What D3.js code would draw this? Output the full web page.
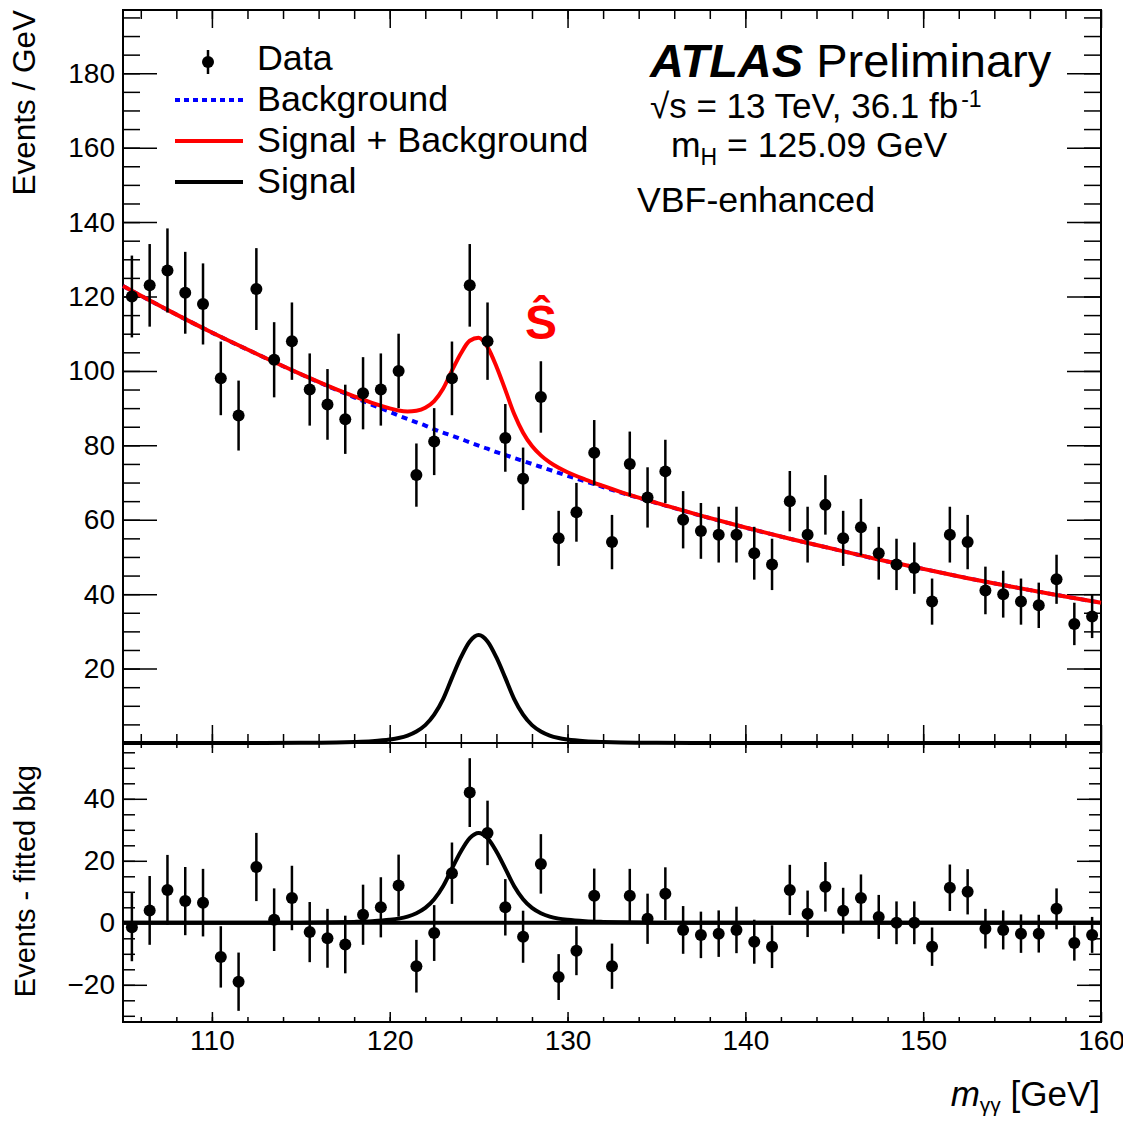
<!DOCTYPE html>
<html>
<head>
<meta charset="utf-8">
<script src="https://cdn.jsdelivr.net/npm/d3@7"></script>
<style>
  body { margin: 0; background: #fff; }
  svg { font-family: "Liberation Sans", Arial, sans-serif; }
  .tick text { font-size: 28px; fill: #000; }
  .tick line { stroke: #000; stroke-width: 1.5; }
</style>
</head>
<body>
<svg id="chart" width="1123" height="1121"></svg>
<script>
// bin centres (1 GeV bins)
const binCenters = [105.5,106.5,107.5,108.5,109.5,110.5,111.5,112.5,113.5,114.5,115.5,116.5,117.5,118.5,119.5,
  120.5,121.5,122.5,123.5,124.5,125.5,126.5,127.5,128.5,129.5,130.5,131.5,132.5,133.5,134.5,135.5,136.5,137.5,
  138.5,139.5,140.5,141.5,142.5,143.5,144.5,145.5,146.5,147.5,148.5,149.5,150.5,151.5,152.5,153.5,154.5,155.5,
  156.5,157.5,158.5,159.5];
const dataEvents = [120,123,127,121,118,98,88,122,103,108,95,91,87,94,95,100,72,81,98,123,108,82,71,93,55,62,78,
  54,75,66,73,60,57,56,56,51,48,65,56,64,55,58,51,48,47,38,56,54,41,40,38,37,44,32,34];
const dataErrors = [11.0,11.1,11.3,11.0,10.9,9.9,9.4,11.0,10.1,10.4,9.7,9.5,9.3,9.7,9.7,10.0,8.5,9.0,9.9,11.1,
  10.4,9.1,8.4,9.6,7.4,7.9,8.8,7.3,8.7,8.1,8.5,7.7,7.5,7.5,7.5,7.1,6.9,8.1,7.5,8.0,7.4,7.6,7.1,6.9,6.9,6.2,7.5,
  7.3,6.4,6.3,6.2,6.1,6.6,5.7,5.8];
const residuals = [-1.4,4,10.6,7,6.5,-11,-19,18,1,8,-3,-5,-7,2.6,5,12,-14,-3.3,16,42,29,5,-4.5,19,-17.5,-9,8.7,
  -14,8.7,1.3,9.4,-2.3,-3.9,-3.5,-2.3,-6.1,-7.7,10.6,2.9,11.6,3.9,8,1.9,0,0,-7.7,11.3,10,-1.9,-2.3,-3.5,-3.5,
  4.5,-6.5,-3.9];

// fitted curves sampled along the mass axis
const curveMass = [105,107.5,110,112.5,115,117,118,119,120,120.5,121,121.5,122,122.5,123,123.5,124,124.5,125,
  125.5,126,126.5,127,127.5,128,128.5,129,129.5,130,131,132,133,135,137.5,140,142.5,145,147.5,150,152.5,155,
  157.5,160];
const bkgCurve = [122.8,116.4,110.3,104.6,99.1,94.9,92.9,90.9,89.0,88.0,87.1,86.2,85.3,84.3,83.4,82.6,81.7,80.8,
  79.9,79.1,78.2,77.4,76.6,75.8,75.0,74.2,73.4,72.6,71.8,70.3,68.8,67.3,64.5,61.1,57.9,54.9,52.1,49.3,46.8,44.3,
  42.0,39.8,37.7];
const sigCurve = [0,0,0.01,0.02,0.05,0.15,0.28,0.5,0.95,1.35,2.0,3.1,4.8,7.6,11.8,17.5,23,27.3,29,27.3,23,17.5,
  11.8,7.6,4.8,3.1,2.0,1.35,0.95,0.5,0.28,0.15,0.05,0.02,0.01,0,0,0,0,0,0,0,0];

const xTickLabels = [110,120,130,140,150,160];
const topYTicks = [20,40,60,80,100,120,140,160,180];
const botYTicks = [-20,0,20,40];

const svg = d3.select('#chart');
const left = 123, right = 1101, topY = 10, midY = 743, botY = 1022;

const x = d3.scaleLinear().domain([105, 160]).range([left, right]);
const yTop = d3.scaleLinear().domain([0, 197]).range([midY, topY]);
const yBot = d3.scaleLinear().domain([-32, 58]).range([botY, midY]);

const minorX = d3.range(106, 160, 2);
const clean = g => g.select('.domain').remove();

// ---- top panel axes ----
svg.append('g').attr('transform', `translate(${left},0)`)
  .call(d3.axisLeft(yTop).tickValues(d3.range(5, 197, 5)).tickSize(-17).tickFormat('')).call(clean);
svg.append('g').attr('transform', `translate(${left},0)`)
  .call(d3.axisLeft(yTop).tickValues(topYTicks).tickSize(-34).tickPadding(8)).call(clean);
svg.append('g').attr('transform', `translate(${right},0)`)
  .call(d3.axisRight(yTop).tickValues(d3.range(5, 197, 5)).tickSize(-17).tickFormat('')).call(clean);
svg.append('g').attr('transform', `translate(${right},0)`)
  .call(d3.axisRight(yTop).tickValues(topYTicks).tickSize(-34).tickFormat('')).call(clean);
[[topY, d3.axisTop], [midY, d3.axisBottom]].forEach(([yy, ax]) => {
  svg.append('g').attr('transform', `translate(0,${yy})`)
    .call(ax(x).tickValues(minorX).tickSize(-9).tickFormat('')).call(clean);
  svg.append('g').attr('transform', `translate(0,${yy})`)
    .call(ax(x).tickValues(xTickLabels).tickSize(-18).tickFormat('')).call(clean);
});

// ---- bottom panel axes ----
svg.append('g').attr('transform', `translate(${left},0)`)
  .call(d3.axisLeft(yBot).tickValues(d3.range(-30, 58, 5)).tickSize(-12).tickFormat('')).call(clean);
svg.append('g').attr('transform', `translate(${left},0)`)
  .call(d3.axisLeft(yBot).tickValues(botYTicks).tickSize(-24).tickPadding(8)
    .tickFormat(d => d < 0 ? '\u2212' + Math.abs(d) : d)).call(clean);
svg.append('g').attr('transform', `translate(${right},0)`)
  .call(d3.axisRight(yBot).tickValues(d3.range(-30, 58, 5)).tickSize(-12).tickFormat('')).call(clean);
svg.append('g').attr('transform', `translate(${right},0)`)
  .call(d3.axisRight(yBot).tickValues(botYTicks).tickSize(-24).tickFormat('')).call(clean);
[[midY, d3.axisTop], [botY, d3.axisBottom]].forEach(([yy, ax]) => {
  svg.append('g').attr('transform', `translate(0,${yy})`)
    .call(ax(x).tickValues(minorX).tickSize(-5).tickFormat('')).call(clean);
  svg.append('g').attr('transform', `translate(0,${yy})`)
    .call(ax(x).tickValues(xTickLabels).tickSize(-10).tickPadding(8)
      .tickFormat(yy === botY ? d3.format('d') : '')).call(clean);
});

// frames
svg.append('rect').attr('x', left).attr('y', topY).attr('width', right - left).attr('height', midY - topY)
  .attr('fill', 'none').attr('stroke', '#000').attr('stroke-width', 2);
svg.append('rect').attr('x', left).attr('y', midY).attr('width', right - left).attr('height', botY - midY)
  .attr('fill', 'none').attr('stroke', '#000').attr('stroke-width', 2);

// ---- curves, top panel ----
const curvePts = curveMass.map((m, i) => ({ m, b: bkgCurve[i], s: sigCurve[i] }));
const lineB = d3.line().x(d => x(d.m)).y(d => yTop(d.b)).curve(d3.curveMonotoneX);
const lineSB = d3.line().x(d => x(d.m)).y(d => yTop(d.b + d.s)).curve(d3.curveMonotoneX);
const lineS = d3.line().x(d => x(d.m)).y(d => yTop(d.s)).curve(d3.curveMonotoneX);
const lineSbot = d3.line().x(d => x(d.m)).y(d => yBot(d.s)).curve(d3.curveMonotoneX);

svg.append('path').datum(curvePts).attr('d', lineB).attr('fill', 'none')
  .attr('stroke', '#0000ff').attr('stroke-width', 4).attr('stroke-dasharray', '6,5');
svg.append('path').datum(curvePts).attr('d', lineSB).attr('fill', 'none')
  .attr('stroke', '#ff0000').attr('stroke-width', 4);
svg.append('path').datum(curvePts).attr('d', lineS).attr('fill', 'none')
  .attr('stroke', '#000').attr('stroke-width', 4);

// data points, top
const pts = binCenters.map((m, i) => ({ m, v: dataEvents[i], e: dataErrors[i], r: residuals[i] }));
const gTop = svg.append('g');
gTop.selectAll('line').data(pts).enter().append('line')
  .attr('x1', d => x(d.m)).attr('x2', d => x(d.m))
  .attr('y1', d => yTop(d.v - d.e)).attr('y2', d => yTop(d.v + d.e))
  .attr('stroke', '#000').attr('stroke-width', 2.5);
gTop.selectAll('circle').data(pts).enter().append('circle')
  .attr('cx', d => x(d.m)).attr('cy', d => yTop(d.v)).attr('r', 6).attr('fill', '#000');

// ---- bottom panel ----
svg.append('line').attr('x1', x(105)).attr('x2', x(160)).attr('y1', yBot(0)).attr('y2', yBot(0))
  .attr('stroke', '#000').attr('stroke-width', 4);
svg.append('path').datum(curvePts).attr('d', lineSbot).attr('fill', 'none')
  .attr('stroke', '#000').attr('stroke-width', 4);
const gBot = svg.append('g');
gBot.selectAll('line').data(pts).enter().append('line')
  .attr('x1', d => x(d.m)).attr('x2', d => x(d.m))
  .attr('y1', d => yBot(d.r - d.e)).attr('y2', d => yBot(d.r + d.e))
  .attr('stroke', '#000').attr('stroke-width', 2.5);
gBot.selectAll('circle').data(pts).enter().append('circle')
  .attr('cx', d => x(d.m)).attr('cy', d => yBot(d.r)).attr('r', 6).attr('fill', '#000');

// ---- axis titles ----
svg.append('text').attr('transform', 'translate(35,10) rotate(-90)').attr('text-anchor', 'end')
  .attr('font-size', 31.5).text('Events / GeV');
svg.append('text').attr('transform', 'translate(35,765) rotate(-90)').attr('text-anchor', 'end')
  .attr('font-size', 29).text('Events - fitted bkg');
const xt = svg.append('text').attr('x', 1100).attr('y', 1106).attr('text-anchor', 'end').attr('font-size', 35);
xt.append('tspan').attr('font-style', 'italic').text('m');
xt.append('tspan').attr('font-size', 21).attr('dy', 6).text('\u03b3\u03b3');
xt.append('tspan').attr('dy', -6).text(' [GeV]');

// ---- legend ----
svg.append('line').attr('x1', 208).attr('x2', 208).attr('y1', 50).attr('y2', 74)
  .attr('stroke', '#000').attr('stroke-width', 2.5);
svg.append('circle').attr('cx', 208).attr('cy', 62).attr('r', 6).attr('fill', '#000');
const legend = [
  { label: 'Data', y: 70 },
  { label: 'Background', y: 111, color: '#0000ff', dash: '5,4' },
  { label: 'Signal + Background', y: 152, color: '#ff0000' },
  { label: 'Signal', y: 193, color: '#000' }
];
legend.forEach(l => {
  if (l.color) {
    svg.append('line').attr('x1', 175).attr('x2', 243).attr('y1', l.y - 11).attr('y2', l.y - 11)
      .attr('stroke', l.color).attr('stroke-width', 4).attr('stroke-dasharray', l.dash || null);
  }
  svg.append('text').attr('x', 257).attr('y', l.y).attr('font-size', 35.8).text(l.label);
});

// ---- ATLAS label ----
const at = svg.append('text').attr('x', 650).attr('y', 77).attr('font-size', 47);
at.append('tspan').attr('font-weight', 'bold').attr('font-style', 'italic').text('ATLAS');
at.append('tspan').text(' Preliminary');
const en = svg.append('text').attr('x', 650).attr('y', 118).attr('font-size', 35);
en.append('tspan').text('\u221as = 13 TeV, 36.1 fb');
en.append('tspan').attr('font-size', 23).attr('dx', 3).attr('dy', -11).text('-1');
const mh = svg.append('text').attr('x', 671).attr('y', 157).attr('font-size', 35.5);
mh.append('tspan').text('m');
mh.append('tspan').attr('font-size', 23).attr('dy', 8).text('H');
mh.append('tspan').attr('dy', -8).text(' = 125.09 GeV');
svg.append('text').attr('x', 637).attr('y', 212).attr('font-size', 35.7).text('VBF-enhanced');

svg.append('text').attr('x', 541).attr('y', 339).attr('text-anchor', 'middle')
  .attr('font-size', 48).attr('font-weight', 'bold').attr('fill', '#ff0000').text('\u015c');
</script>
</body>
</html>
